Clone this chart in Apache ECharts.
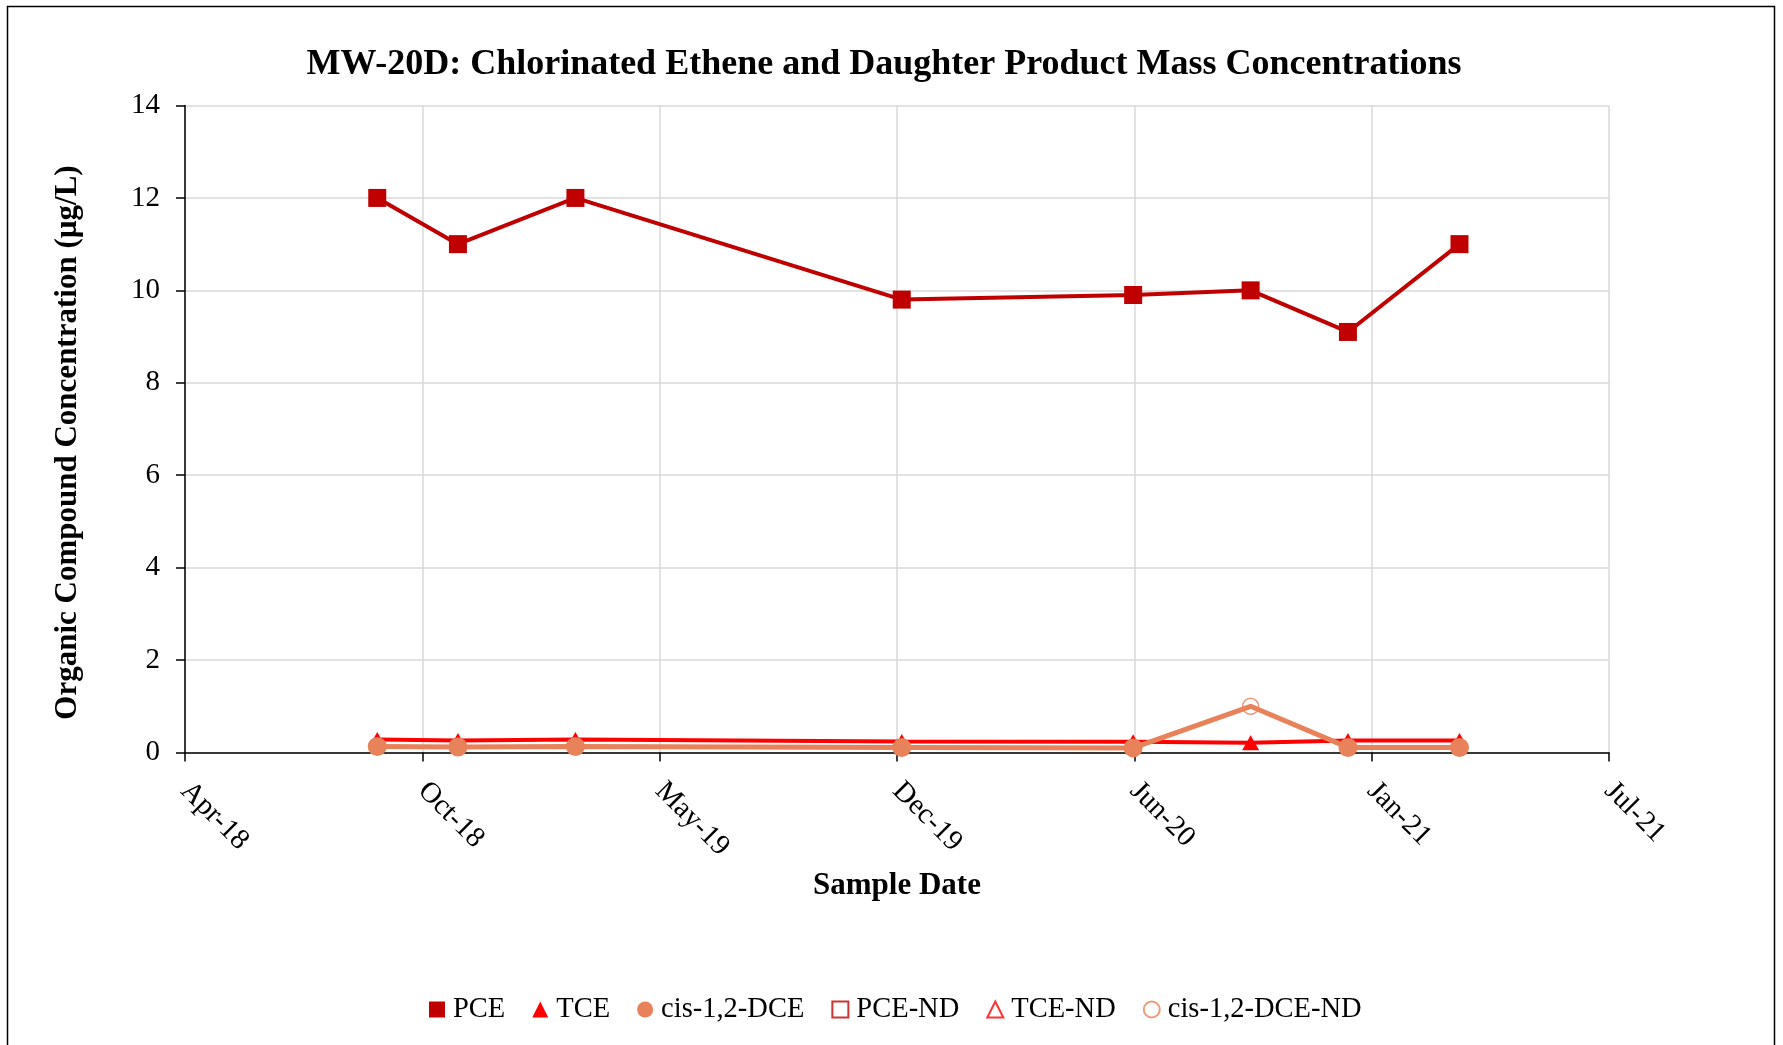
<!DOCTYPE html>
<html>
<head>
<meta charset="utf-8">
<script src="https://cdn.jsdelivr.net/npm/echarts@6/dist/echarts.min.js"></script>
<style>
html,body{margin:0;padding:0;background:#fff;}
#chart{width:1783px;height:1045px;}
</style>
</head>
<body>
<div id="chart"></div>
<script>
// ---- data ----
const sampleDates = ['2018-09-19','2018-11-26','2019-03-05','2019-12-05','2020-06-17','2020-09-24','2020-12-15','2021-03-19'];
const pce = [12, 11, 12, 9.8, 9.9, 10, 9.1, 11];
const tce = [0.28, 0.26, 0.28, 0.24, 0.23, 0.21, 0.26, 0.26];
const dce = [0.13, 0.12, 0.13, 0.11, 0.10, 1.0, 0.11, 0.11];
const dceND = [false, false, false, false, false, true, false, false];
const pceND = [];
const tceND = [];
const xAxisStart = '2018-04-10';
const xAxisEnd = '2021-07-23';
const xTickDays = 200;
const yTicks = [0, 2, 4, 6, 8, 10, 12, 14];
const monthNames = ['Jan','Feb','Mar','Apr','May','Jun','Jul','Aug','Sep','Oct','Nov','Dec'];

function toSerial(s){
  const p = s.split('-').map(Number);
  return Math.round((Date.UTC(p[0], p[1]-1, p[2]) - Date.UTC(1899, 11, 30)) / 86400000);
}
function fmtSerial(v){
  const d = new Date(Date.UTC(1899, 11, 30) + v * 86400000);
  return monthNames[d.getUTCMonth()] + '-' + String(d.getUTCFullYear()).slice(2);
}

const xs = sampleDates.map(toSerial);
const C_PCE = '#C00000', C_TCE = '#FF0000', C_DCE = '#E8825A';
const FONT = 'Liberation Serif';

const chart = echarts.init(document.getElementById('chart'), null, {renderer:'canvas'});
chart.setOption({
  backgroundColor: '#fff',
  animation: false,
  title: {
    text: 'MW-20D: Chlorinated Ethene and Daughter Product Mass Concentrations',
    left: 879, top: 42, textAlign: 'center',
    textStyle: {fontFamily: FONT, fontWeight: 'bold', fontSize: 36, color: '#000'}
  },
  graphic: [{
    type: 'rect', silent: true,
    shape: {x: 7.5, y: 6.5, width: 1767, height: 1100},
    style: {fill: 'none', stroke: '#000', lineWidth: 1.5}
  }],
  legend: {
    left: 424, top: 990,
    itemWidth: 16, itemHeight: 16, itemGap: 27,
    textStyle: {fontFamily: FONT, fontSize: 28.5, color: '#000', padding: [0, 0, 0, 3]},
    data: [
      {name: 'PCE', icon: 'rect', itemStyle: {color: C_PCE, borderWidth: 0}},
      {name: 'TCE', icon: 'triangle', itemStyle: {color: C_TCE, borderWidth: 0}},
      {name: 'cis-1,2-DCE', icon: 'circle', itemStyle: {color: C_DCE, borderWidth: 0}},
      {name: 'PCE-ND', icon: 'rect', itemStyle: {color: '#fff', borderColor: C_PCE, borderWidth: 2}},
      {name: 'TCE-ND', icon: 'triangle', itemStyle: {color: '#fff', borderColor: C_TCE, borderWidth: 2}},
      {name: 'cis-1,2-DCE-ND', icon: 'circle', itemStyle: {color: '#fff', borderColor: C_DCE, borderWidth: 2}}
    ]
  },
  grid: {left: 185, right: 174, top: 105.5, bottom: 292.5, containLabel: false},
  xAxis: {
    type: 'value',
    min: toSerial(xAxisStart), max: toSerial(xAxisEnd), interval: xTickDays,
    name: 'Sample Date', nameLocation: 'middle', nameGap: 118,
    nameTextStyle: {fontFamily: FONT, fontWeight: 'bold', fontSize: 31, color: '#000'},
    axisLine: {onZero: false, lineStyle: {color: '#000', width: 1.5}},
    axisTick: {show: true, length: 9, lineStyle: {color: '#000', width: 1.5}},
    axisLabel: {formatter: fmtSerial, rotate: -45, margin: 34, fontFamily: FONT, fontSize: 29, color: '#000'},
    splitLine: {show: true, lineStyle: {color: '#D9D9D9', width: 1.5}}
  },
  yAxis: {
    type: 'value', min: yTicks[0], max: yTicks[yTicks.length-1], interval: yTicks[1]-yTicks[0],
    name: 'Organic Compound Concentration (µg/L)', nameLocation: 'middle', nameGap: 102, nameRotate: 90,
    nameTextStyle: {fontFamily: FONT, fontWeight: 'bold', fontSize: 31, color: '#000', padding: [0, 27, 0, 0]},
    axisLine: {show: true, lineStyle: {color: '#000', width: 1.5}},
    axisTick: {show: true, length: 9, lineStyle: {color: '#000', width: 1.5}},
    axisLabel: {margin: 25, fontFamily: FONT, fontSize: 29, color: '#000'},
    splitLine: {show: true, lineStyle: {color: '#D9D9D9', width: 1.5}}
  },
  series: [
    {
      name: 'PCE', type: 'line', symbol: 'rect', symbolSize: 18, z: 3,
      itemStyle: {color: C_PCE}, lineStyle: {color: C_PCE, width: 4},
      data: xs.map((x, i) => [x, pce[i]])
    },
    {
      name: 'TCE', type: 'line', symbol: 'triangle', symbolSize: [17, 15], z: 4,
      itemStyle: {color: C_TCE}, lineStyle: {color: C_TCE, width: 4},
      data: xs.map((x, i) => [x, tce[i]])
    },
    {
      name: 'cis-1,2-DCE', type: 'line', symbol: 'circle', symbolSize: 19, z: 5,
      itemStyle: {color: C_DCE}, lineStyle: {color: C_DCE, width: 5},
      data: xs.map((x, i) => dceND[i] ? {value: [x, dce[i]], symbol: 'none'} : [x, dce[i]])
    },
    {
      name: 'PCE-ND', type: 'scatter', symbol: 'rect', symbolSize: 16, z: 6,
      itemStyle: {color: 'rgba(255,255,255,0)', borderColor: C_PCE, borderWidth: 1.5},
      data: pceND
    },
    {
      name: 'TCE-ND', type: 'scatter', symbol: 'triangle', symbolSize: 16, z: 6,
      itemStyle: {color: 'rgba(255,255,255,0)', borderColor: C_TCE, borderWidth: 1.5},
      data: tceND
    },
    {
      name: 'cis-1,2-DCE-ND', type: 'scatter', symbol: 'circle', symbolSize: 16, z: 6,
      itemStyle: {color: 'rgba(255,255,255,0)', borderColor: C_DCE, borderWidth: 1.5},
      data: xs.map((x, i) => [x, dce[i], dceND[i]]).filter(d => d[2]).map(d => [d[0], d[1]])
    }
  ]
});
</script>
</body>
</html>
